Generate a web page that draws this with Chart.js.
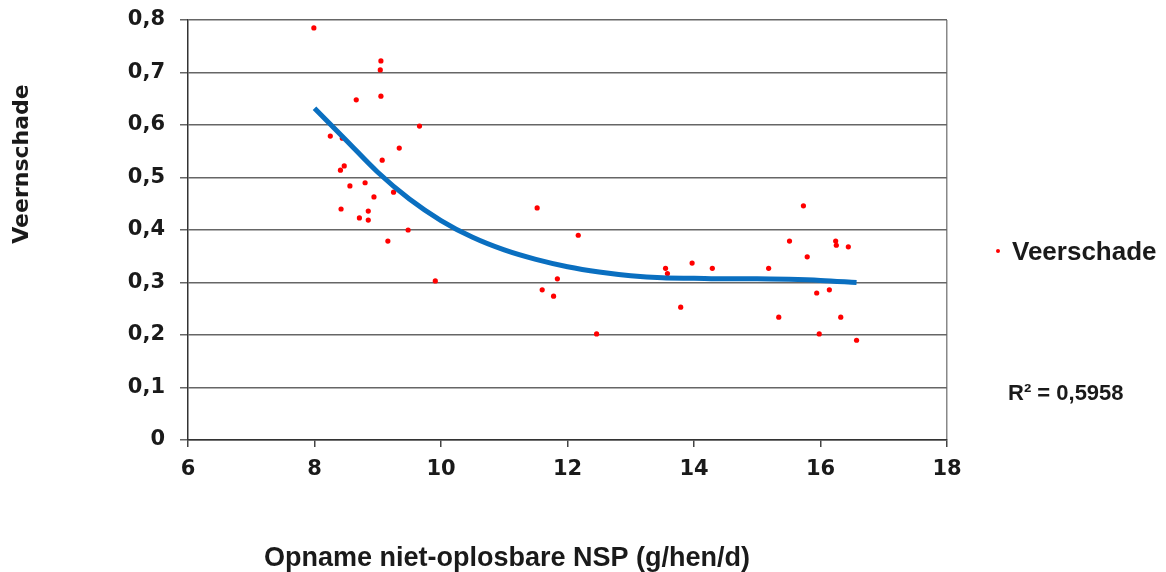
<!DOCTYPE html>
<html lang="nl">
<head>
    <meta charset="UTF-8">
    <title>Veerschade</title>
    <script src="https://cdn.jsdelivr.net/npm/chart.js"></script>
    <style>
        html, body { margin: 0; padding: 0; background: #fff; }
        #wrap { width: 1166px; height: 572px; }
    </style>
</head>
<body>
    <div id="wrap">
        <canvas id="nspChart" width="1166" height="572"></canvas>
    </div>

    <script>
        // Measured points (x = NSP intake, y = feather damage)
        const nspIntake = [
            7.99, 9.05, 9.04, 8.66, 9.05, 9.66, 8.25, 8.44, 9.34, 9.07,
            8.41, 8.47, 8.56, 8.80, 8.94, 9.25, 8.42, 8.85, 8.71, 8.85,
            9.48, 9.16, 9.91, 11.52, 12.17, 11.84, 11.60, 11.78, 12.46, 13.55,
            13.58, 13.97, 14.29, 13.79, 15.18, 15.73, 15.51, 16.24, 16.25, 16.44,
            15.79, 15.94, 16.14, 15.34, 16.32, 15.98, 16.57
        ];
        const featherDamage = [
            0.785, 0.722, 0.705, 0.648, 0.655, 0.598, 0.579, 0.575, 0.556, 0.533,
            0.514, 0.522, 0.484, 0.490, 0.463, 0.472, 0.440, 0.436, 0.423, 0.419,
            0.400, 0.379, 0.303, 0.442, 0.390, 0.307, 0.286, 0.274, 0.202, 0.327,
            0.317, 0.337, 0.327, 0.253, 0.327, 0.446, 0.379, 0.379, 0.371, 0.368,
            0.349, 0.280, 0.286, 0.234, 0.234, 0.202, 0.190
        ];

        // Trend line
        const trendX = [8, 8.5, 9, 9.5, 10, 10.5, 11, 11.5, 12, 12.5, 13, 13.5, 14, 14.5, 15, 15.5, 16, 16.57];
        const trendY = [0.632, 0.571, 0.510, 0.459, 0.418, 0.386, 0.362, 0.344, 0.330, 0.320, 0.313, 0.309, 0.308, 0.307, 0.307, 0.306, 0.304, 0.300];

        const xTicks = [6, 8, 10, 12, 14, 16, 18];
        const yTicks = [0, 0.1, 0.2, 0.3, 0.4, 0.5, 0.6, 0.7, 0.8];

        const legendLabel = 'Veerschade';
        const rSquared = 'R² = 0,5958';
        const xTitle = 'Opname niet-oplosbare NSP (g/hen/d)';
        const yTitle = 'Veernschade';

        const points = nspIntake.map((x, i) => ({ x: x, y: featherDamage[i] }));
        const trend = trendX.map((x, i) => ({ x: x, y: trendY[i] }));

        // Titles, legend and R² placed where the original has them
        const labelsPlugin = {
            id: 'labels',
            afterDraw(chart) {
                const ctx = chart.ctx;
                ctx.save();
                ctx.fillStyle = '#1a1a1a';

                ctx.font = 'bold 22px "DejaVu Sans"';
                ctx.textAlign = 'center';
                ctx.textBaseline = 'middle';
                ctx.translate(22, 164);
                ctx.rotate(-Math.PI / 2);
                ctx.fillText(yTitle, 0, 0);
                ctx.setTransform(1, 0, 0, 1, 0, 0);

                ctx.font = 'bold 27px "Liberation Sans"';
                ctx.textBaseline = 'alphabetic';
                ctx.fillText(xTitle, 507, 566);

                ctx.textAlign = 'left';
                ctx.font = 'bold 26px "Liberation Sans"';
                ctx.fillText(legendLabel, 1012, 260);
                ctx.fillStyle = '#ff0000';
                ctx.beginPath();
                ctx.arc(998, 251, 2, 0, Math.PI * 2);
                ctx.fill();

                ctx.fillStyle = '#1a1a1a';
                ctx.font = 'bold 22px "Liberation Sans"';
                ctx.fillText(rSquared, 1008, 400);
                ctx.restore();
            }
        };

        // fixed axis sizes, no extra label padding
        function fixSize(prop, size) {
            return axis => {
                axis[prop] = size;
                axis.paddingTop = 0;
                axis.paddingBottom = 0;
                axis.paddingLeft = 0;
                axis.paddingRight = 0;
            };
        }

        const ctx = document.getElementById('nspChart').getContext('2d');
        new Chart(ctx, {
            type: 'scatter',
            data: {
                datasets: [
                    {
                        label: 'Trend',
                        data: trend,
                        showLine: true,
                        borderColor: '#0a6fc0',
                        borderWidth: 5,
                        pointRadius: 0,
                        cubicInterpolationMode: 'monotone',
                        order: 0
                    },
                    {
                        label: legendLabel,
                        data: points,
                        backgroundColor: '#ff0000',
                        borderWidth: 0,
                        pointRadius: 2.6,
                        order: 1
                    }
                ]
            },
            options: {
                responsive: false,
                animation: false,
                layout: { padding: { top: 20, right: 219, left: 0, bottom: 0 } },
                plugins: {
                    legend: { display: false },
                    tooltip: { enabled: false }
                },
                scales: {
                    x: {
                        type: 'linear',
                        min: 6,
                        max: 18,
                        afterBuildTicks: axis => { axis.ticks = xTicks.map(v => ({ value: v })); },
                        afterFit: fixSize('height', 132),
                        grid: {
                            color: c => (c.tick && c.tick.value === 18) ? '#888' : 'transparent',
                            tickColor: '#444',
                            lineWidth: 1.5,
                            tickLength: 7
                        },
                        border: { color: '#333', width: 1.5 },
                        ticks: {
                            color: '#1a1a1a',
                            padding: 10,
                            font: { family: 'DejaVu Sans', size: 21, weight: 'bold' }
                        }
                    },
                    y: {
                        min: 0,
                        max: 0.8,
                        afterBuildTicks: axis => { axis.ticks = yTicks.map(v => ({ value: v })); },
                        afterFit: fixSize('width', 188),
                        grid: {
                            color: '#666',
                            lineWidth: 1.5,
                            tickLength: 8
                        },
                        border: { color: '#333', width: 1.5 },
                        ticks: {
                            color: '#1a1a1a',
                            padding: 15,
                            font: { family: 'DejaVu Sans', size: 21, weight: 'bold' },
                            callback: v => v === 0 ? '0' : v.toFixed(1).replace('.', ',')
                        }
                    }
                }
            },
            plugins: [labelsPlugin]
        });
    </script>
</body>
</html>
